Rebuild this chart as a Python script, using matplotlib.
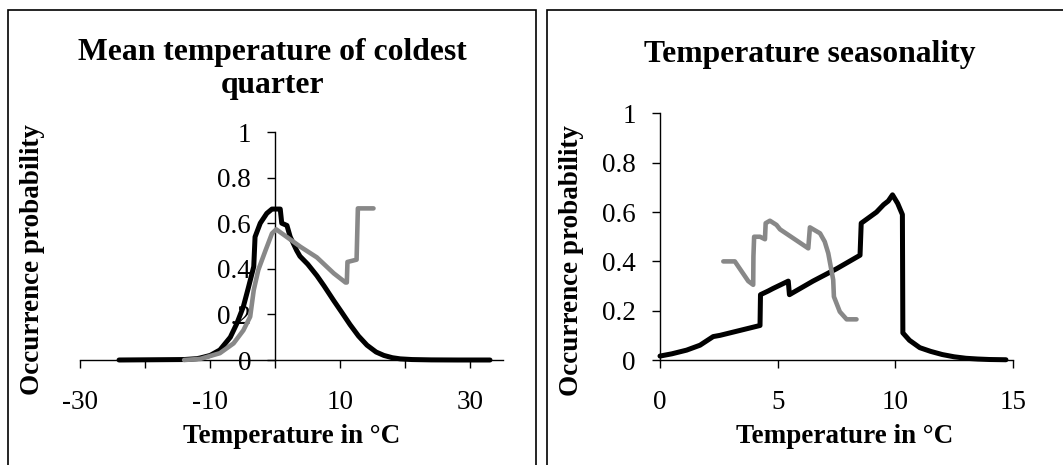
import matplotlib
matplotlib.use("Agg")
import matplotlib.pyplot as plt
from matplotlib.patches import Rectangle

# ---- data: mean temperature of coldest quarter ----
cold_black_x = [-24, -14, -12, -11.5, -10, -8.5, -6.9, -5.9, -4.9, -4.1, -3.3, -3.1,
                -2.3, -1.3, -0.5, 0.77, 1.0, 1.8, 2.3, 3.3, 3.8, 5.0, 6.4, 7.5, 9.0,
                10.2, 11.5, 12.8, 14.1, 15.5, 16.7, 18.0, 19.2, 21.0, 24.0, 28.0, 33.0]
cold_black_y = [0, 0.002, 0.006, 0.009, 0.02, 0.044, 0.10, 0.16, 0.234, 0.32, 0.41, 0.54,
                0.60, 0.643, 0.662, 0.662, 0.60, 0.59, 0.54, 0.48, 0.455, 0.42, 0.37,
                0.325, 0.26, 0.21, 0.155, 0.105, 0.065, 0.035, 0.02, 0.01, 0.005,
                0.002, 0.0005, 0, 0]

cold_gray_x = [-14, -11.5, -8.5, -6.4, -4.9, -3.85, -3.3, -2.6, -1.5, -0.5, 0.15,
               3.85, 6.4, 9.0, 10.8, 11.0, 11.1, 12.5, 12.7, 15.1]
cold_gray_y = [0, 0.005, 0.03, 0.073, 0.13, 0.19, 0.307, 0.395, 0.48, 0.555, 0.573,
               0.497, 0.45, 0.38, 0.34, 0.34, 0.43, 0.44, 0.665, 0.665]

# ---- data: temperature seasonality ----
seas_black_x = [0, 0.5, 1.13, 1.7, 2.26, 2.55, 3.4, 4.25, 4.27, 4.6, 4.8, 5.45, 5.5,
                6.5, 7.5, 8.5, 8.55, 9.2, 9.5, 9.7, 9.88, 10.1, 10.3, 10.32, 10.6,
                11.04, 11.5, 12.0, 12.5, 13.0, 13.5, 14.0, 14.7]
seas_black_y = [0.016, 0.025, 0.04, 0.06, 0.095, 0.10, 0.12, 0.14, 0.265, 0.28, 0.29,
                0.32, 0.265, 0.32, 0.37, 0.425, 0.555, 0.60, 0.63, 0.645, 0.67, 0.635,
                0.59, 0.11, 0.08, 0.05, 0.035, 0.022, 0.013, 0.007, 0.004, 0.002, 0.001]

seas_gray_x = [2.69, 3.18, 3.75, 3.96, 3.97, 4.0, 4.25, 4.46, 4.49, 4.67, 4.95, 5.1,
               6.3, 6.37, 6.8, 7.0, 7.15, 7.36, 7.39, 7.64, 7.93, 8.35]
seas_gray_y = [0.40, 0.40, 0.32, 0.305, 0.42, 0.50, 0.50, 0.49, 0.555, 0.565, 0.548,
               0.53, 0.453, 0.538, 0.514, 0.48, 0.433, 0.325, 0.257, 0.196, 0.165, 0.165]

cold_xticks = [-30, -20, -10, 0, 10, 20, 30]
cold_xticklabels = ["-30", "", "-10", "", "10", "", "30"]
seas_xticks = [0, 5, 10, 15]
yticks = [0, 0.2, 0.4, 0.6, 0.8, 1]
ytick_labels = ["0", "0.2", "0.4", "0.6", "0.8", "1"]

title_cold = "Mean temperature of coldest\nquarter"
title_seas = "Temperature seasonality"
xlabel = "Temperature in °C"
ylabel = "Occurrence probability"

# ---- figure ----
W, H = 1063, 465
plt.rcParams["font.family"] = ["Liberation Serif", "DejaVu Serif"]
fig = plt.figure(figsize=(W / 100, H / 100), dpi=100)
fig.patch.set_facecolor("white")

def fx(px):
    return px / W

def fy(py):
    return 1 - py / H

BLACK = "#000000"
GRAY = "#888888"
TICK_FS = 19.5
LABEL_FS = 19.5
TITLE_FS = 22.8

def style_axes(ax):
    for s in ("top", "right"):
        ax.spines[s].set_visible(False)
    for s in ("left", "bottom"):
        ax.spines[s].set_linewidth(1.0)
        ax.spines[s].set_color("black")
    ax.set_ylim(0, 1)
    ax.set_yticks(yticks)
    ax.set_yticklabels(ytick_labels)
    ax.tick_params(axis="both", direction="out", length=5.8, width=1.0,
                   labelsize=TICK_FS, colors="black")
    ax.tick_params(axis="y", pad=11.5)
    ax.tick_params(axis="x", pad=15.5)
    ax.set_facecolor("none")

# left panel
ax1 = fig.add_axes([fx(80), fy(360), fx(503) - fx(80), (360 - 132) / H])
ax1.set_xlim(-30, 35)
style_axes(ax1)
ax1.spines["left"].set_position(("data", 0))
ax1.set_xticks(cold_xticks)
ax1.set_xticklabels(cold_xticklabels)
ax1.plot(cold_black_x, cold_black_y, color=BLACK, lw=3.6, zorder=4,
         solid_joinstyle="round", solid_capstyle="round", clip_on=False)
ax1.plot(cold_gray_x, cold_gray_y, color=GRAY, lw=3.3, zorder=5,
         solid_joinstyle="round", solid_capstyle="round", clip_on=False)

# right panel
ax2 = fig.add_axes([fx(660), fy(360), fx(1013) - fx(660), (360 - 113.5) / H])
ax2.set_xlim(0, 15)
style_axes(ax2)
ax2.set_xticks(seas_xticks)
ax2.set_xticklabels([str(t) for t in seas_xticks])
ax2.plot(seas_black_x, seas_black_y, color=BLACK, lw=3.6, zorder=4,
         solid_joinstyle="round", solid_capstyle="round", clip_on=False)
ax2.plot(seas_gray_x, seas_gray_y, color=GRAY, lw=3.3, zorder=5,
         solid_joinstyle="round", solid_capstyle="round", clip_on=False)

# titles and axis labels
fig.text(fx(272), fy(93), title_cold, ha="center", va="baseline",
         fontsize=TITLE_FS, fontweight="bold", linespacing=1.2)
fig.text(fx(810), fy(62), title_seas, ha="center", va="baseline",
         fontsize=TITLE_FS, fontweight="bold")
fig.text(fx(292), fy(443), xlabel, ha="center", va="baseline",
         fontsize=LABEL_FS, fontweight="bold")
fig.text(fx(845), fy(443), xlabel, ha="center", va="baseline",
         fontsize=LABEL_FS, fontweight="bold")
fig.text(fx(33), fy(260), ylabel, ha="center", va="center", rotation=90,
         fontsize=LABEL_FS, fontweight="bold")
fig.text(fx(572), fy(261), ylabel, ha="center", va="center", rotation=90,
         fontsize=LABEL_FS, fontweight="bold")

# chart-area borders
for x0, x1 in ((8, 536), (547, 1080)):
    fig.patches.append(Rectangle((fx(x0), fy(480)), fx(x1) - fx(x0), fy(10) - fy(480),
                                 transform=fig.transFigure, fill=False,
                                 edgecolor="black", linewidth=1.2, zorder=0))

fig.savefig("out.png", dpi=100)
